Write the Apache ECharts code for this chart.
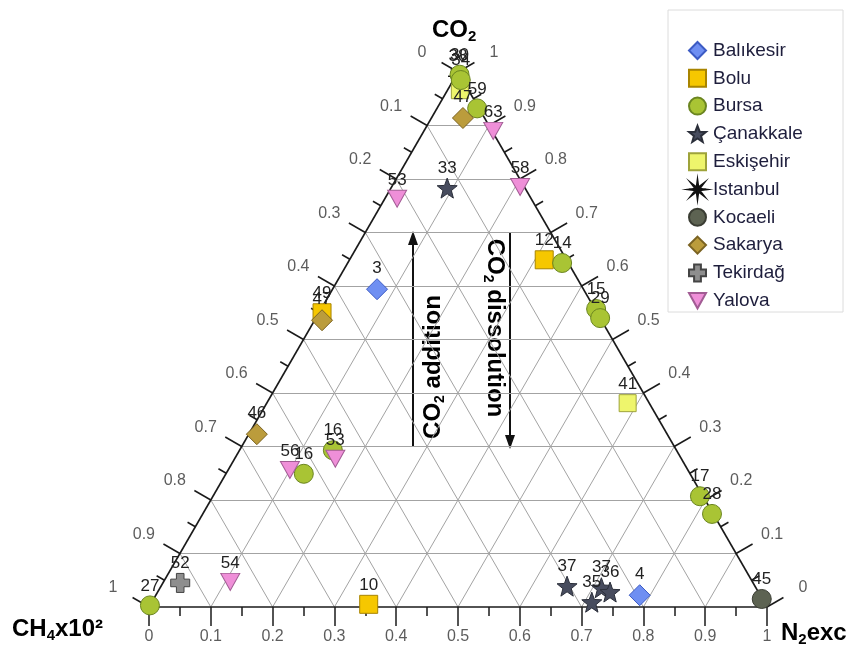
<!DOCTYPE html>
<html>
<head>
<meta charset="utf-8">
<script src="https://cdn.jsdelivr.net/npm/echarts@6/dist/echarts.min.js"></script>
<style>
  html, body { margin: 0; background: #fff; }
  #chart { width: 852px; height: 651px; }
</style>
</head>
<body>
<div id="chart"></div>
<script>
// each point: [N2exc fraction, CO2 fraction, sample no.]
const balikesir = [[0.072, 0.594, '3'], [0.783, 0.022, '4']];
const bolu = [[0.315, 0.649, '12'], [0.005, 0.550, '49'], [0.353, 0.005, '10']];
const bursa = [[0.005, 0.995, '30'], [0.012, 0.985, '34'], [0.065, 0.932, '59'],
  [0.347, 0.643, '14'], [0.445, 0.557, '15'], [0.460, 0.540, '29'],
  [0.151, 0.293, '16'], [0.126, 0.249, '16'], [0.788, 0.207, '17'],
  [0.824, 0.174, '28'], [0.000, 0.003, '27']];
const canakkale = [[0.091, 0.783, '33'], [0.657, 0.039, '37'], [0.712, 0.009, '35'],
  [0.714, 0.036, '37'], [0.732, 0.028, '36']];
const eskisehir = [[0.020, 0.966, ''], [0.584, 0.381, '41']];
const istanbul = [[0.004, 0.992, '38']];
const kocaeli = [[0.984, 0.015, '45']];
const sakarya = [[0.051, 0.914, '47'], [0.012, 0.536, '47'], [0.013, 0.323, '46']];
const tekirdag = [[0.028, 0.045, '52']];
const yalova = [[0.112, 0.890, '63'], [0.208, 0.785, '58'], [0.020, 0.763, '53'],
  [0.100, 0.256, '56'], [0.163, 0.277, '53'], [0.108, 0.047, '54']];

const tickValues = [0, 0.1, 0.2, 0.3, 0.4, 0.5, 0.6, 0.7, 0.8, 0.9, 1];
const tickLabels = ['0', '0.1', '0.2', '0.3', '0.4', '0.5', '0.6', '0.7', '0.8', '0.9', '1'];

const H = Math.sqrt(3) / 2;
const PX = 618; // pixels per unit on the hidden axes
const FONT = 'Liberation Sans, Arial, sans-serif';

// ternary (N2, CO2) -> cartesian on the hidden axes
function tern(n2, co2) {
  return [n2 + co2 / 2, co2 * H];
}

function starPath(n, R, r) {
  const p = [];
  for (let i = 0; i < 2 * n; i++) {
    const a = -Math.PI / 2 + i * Math.PI / n;
    const rad = i % 2 ? r : R;
    p.push((R + rad * Math.cos(a)).toFixed(2) + ',' + (R + rad * Math.sin(a)).toFixed(2));
  }
  return 'path://M' + p.join('L') + 'Z';
}
const STAR = starPath(5, 10, 4.2);
const ASTER = starPath(8, 10, 2.6);
const DOWN_TRI = 'path://M0,0L20,0L10,18Z';
const CROSS = 'path://M6,0H14V6H20V14H14V20H6V14H0V6H6Z';

function pts(name, arr, symbol, size, color, border, z) {
  return {
    name: name,
    type: 'scatter',
    data: arr.map(d => ({ value: tern(d[0], d[1]), name: d[2] })),
    symbol: symbol,
    symbolSize: size,
    itemStyle: { color: color, borderColor: border, borderWidth: 1, opacity: 1 },
    label: {
      show: true, position: 'top', distance: 1,
      formatter: p => p.name,
      fontSize: 17, color: '#222', fontFamily: FONT
    },
    clip: false,
    z: z || 5
  };
}

// grid lines every 0.1
const gridLines = [];
for (let i = 1; i < 10; i++) {
  const v = i / 10;
  gridLines.push({ coords: [tern(0, v), tern(1 - v, v)] });
  gridLines.push({ coords: [tern(v, 0), tern(v, 1 - v)] });
  gridLines.push({ coords: [tern(1 - v, 0), tern(0, 1 - v)] });
}
const border = [
  { coords: [tern(0, 0), tern(1, 0)] },
  { coords: [tern(1, 0), tern(0, 1)] },
  { coords: [tern(0, 1), tern(0, 0)] }
];
// ticks every 0.05, perpendicular to each side
const ticks = [];
for (let k = 0; k <= 20; k++) {
  const v = k / 20;
  const len = (k % 2 === 0 ? 19 : 9) / PX;
  let p = tern(v, 0);
  ticks.push({ coords: [p, [p[0], p[1] - len]] });
  p = tern(0, 1 - v);
  ticks.push({ coords: [p, [p[0] - 0.866 * len, p[1] + 0.5 * len]] });
  p = tern(1 - v, v);
  ticks.push({ coords: [p, [p[0] + 0.866 * len, p[1] + 0.5 * len]] });
}

function tickSeries(data, offset) {
  return {
    type: 'scatter', symbolSize: 0, silent: true, clip: false,
    data: data,
    label: {
      show: true, position: 'inside', offset: offset,
      formatter: p => p.name,
      fontSize: 16, color: '#333', fontFamily: FONT
    }
  };
}
const bottomTicks = tickValues.map((v, i) => ({ value: tern(v, 0), name: tickLabels[i] }));
const leftTicks = tickValues.map((v, i) => ({ value: tern(0, 1 - v), name: tickLabels[i] }));
const rightTicks = tickValues.map((v, i) => ({ value: tern(1 - v, v), name: tickLabels[i] }));

const titleRich = {
  b: { fontSize: 24, fontWeight: 'bold', fontFamily: FONT, color: '#111', lineHeight: 28 },
  s: { fontSize: 15, fontWeight: 'bold', fontFamily: FONT, color: '#111', lineHeight: 28, verticalAlign: 'bottom', padding: [9, 0, 0, 0] }
};
const annRich = {
  b: { fontSize: 24, fontWeight: 'bold', fontFamily: FONT, color: '#111', lineHeight: 28 },
  s: { fontSize: 14, fontWeight: 'bold', fontFamily: FONT, color: '#111', lineHeight: 28, verticalAlign: 'bottom', padding: [9, 0, 0, 0] }
};

const chart = echarts.init(document.getElementById('chart'));
chart.setOption({
  animation: false,
  backgroundColor: '#fff',
  grid: { left: 149, top: 72, width: 618, height: 535 },
  xAxis: { type: 'value', min: 0, max: 1, show: false },
  yAxis: { type: 'value', min: 0, max: H, show: false },
  legend: {
    orient: 'vertical', left: 683, top: 36,
    itemWidth: 17, itemHeight: 17, itemGap: 8.8,
    textStyle: { fontSize: 19, color: '#1e1e3c', fontFamily: FONT, padding: [0, 0, 0, 2] },
    data: ['Balıkesir', 'Bolu', 'Bursa', 'Çanakkale', 'Eskişehir', 'Istanbul', 'Kocaeli', 'Sakarya', 'Tekirdağ', 'Yalova']
  },
  graphic: [
    { type: 'rect', shape: { x: 668, y: 10, width: 175, height: 302 },
      style: { fill: 'none', stroke: '#dcdcdc', lineWidth: 1 } },
    { type: 'text', x: 432, y: 16,
      style: { text: '{b|CO}{s|2}', rich: titleRich } },
    { type: 'text', x: 12, y: 615,
      style: { text: '{b|CH}{s|4}{b|x10²}', rich: titleRich } },
    { type: 'text', x: 781, y: 619,
      style: { text: '{b|N}{s|2}{b|exc}', rich: titleRich } },
    // arrows
    { type: 'line', shape: { x1: 413, y1: 446, x2: 413, y2: 242 }, style: { stroke: '#111', lineWidth: 2 } },
    { type: 'polygon', shape: { points: [[413, 231], [408, 245], [418, 245]] }, style: { fill: '#111' } },
    { type: 'line', shape: { x1: 510, y1: 232, x2: 510, y2: 438 }, style: { stroke: '#111', lineWidth: 2 } },
    { type: 'polygon', shape: { points: [[510, 449], [505, 435], [515, 435]] }, style: { fill: '#111' } },
    { type: 'text', x: 433, y: 367, rotation: Math.PI / 2,
      style: { text: '{b|CO}{s|2}{b| addition}', rich: annRich, align: 'center', verticalAlign: 'middle', textAlign: 'center', textVerticalAlign: 'middle' } },
    { type: 'text', x: 495, y: 328, rotation: -Math.PI / 2,
      style: { text: '{b|CO}{s|2}{b| dissolution}', rich: annRich, align: 'center', verticalAlign: 'middle', textAlign: 'center', textVerticalAlign: 'middle' } }
  ],
  series: [
    { type: 'lines', coordinateSystem: 'cartesian2d', silent: true, clip: false, z: 1,
      lineStyle: { color: '#a3a3a3', width: 1, opacity: 1 }, data: gridLines },
    { type: 'lines', coordinateSystem: 'cartesian2d', silent: true, clip: false, z: 2,
      lineStyle: { color: '#1a1a1a', width: 1.6, opacity: 1 }, data: border },
    { type: 'lines', coordinateSystem: 'cartesian2d', silent: true, clip: false, z: 2,
      lineStyle: { color: '#1a1a1a', width: 1.5, opacity: 1 }, data: ticks },
    tickSeries(bottomTicks, [0, 30]),
    tickSeries(leftTicks, [-36, -19]),
    tickSeries(rightTicks, [36, -19]),
    pts('Balıkesir', balikesir, 'diamond', 21, '#6f8ff2', '#3c5bc4'),
    pts('Bolu', bolu, 'rect', 18, '#f6c700', '#a88400'),
    pts('Bursa', bursa, 'circle', 19, '#a9c434', '#6b8520'),
    pts('Çanakkale', canakkale, STAR, 20, '#474c5e', '#2b2f3a'),
    pts('Eskişehir', eskisehir, 'rect', 17, '#eef56c', '#9ea33a', 4),
    pts('Istanbul', istanbul, ASTER, 20, '#111', '#111', 4),
    pts('Kocaeli', kocaeli, 'circle', 19, '#5d6352', '#3a3d33'),
    pts('Sakarya', sakarya, 'diamond', 21, '#bb9c3c', '#7b6322'),
    pts('Tekirdağ', tekirdag, CROSS, 19, '#8e8e8e', '#444'),
    pts('Yalova', yalova, DOWN_TRI, [19, 17], '#ef8fd8', '#a25c94', 6)
  ]
});
</script>
</body>
</html>
